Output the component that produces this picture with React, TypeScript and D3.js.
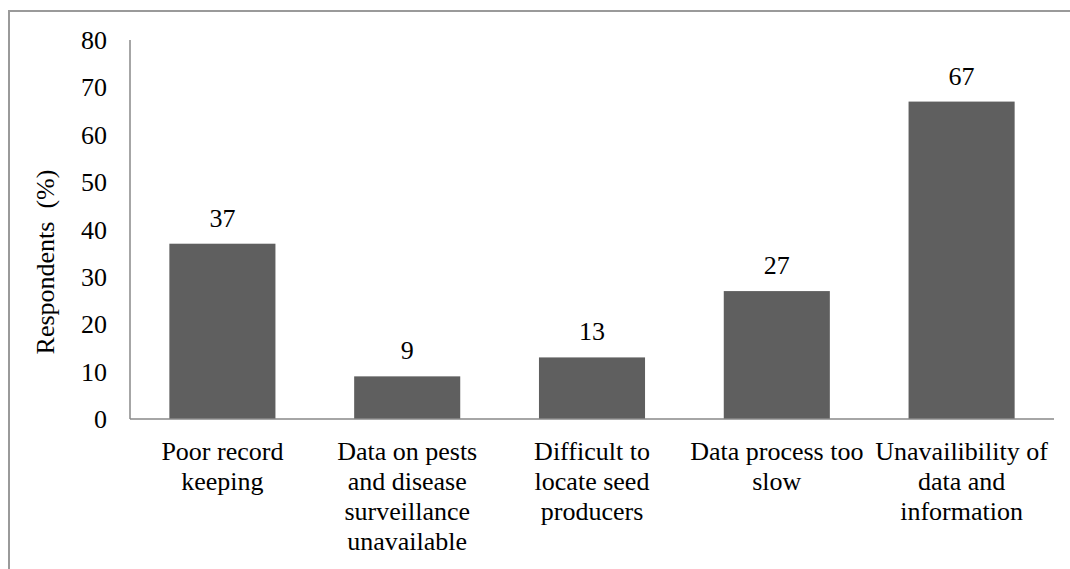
import React from "react";
import * as d3 from "d3";

// Survey results: constraints reported by respondents
const categories: string[] = [
  "Poor record keeping",
  "Data on pests and disease surveillance unavailable",
  "Difficult to locate seed producers",
  "Data process too slow",
  "Unavailibility of data and information",
];
const categoryLines: string[][] = [
  ["Poor record", "keeping"],
  ["Data on pests", "and disease", "surveillance", "unavailable"],
  ["Difficult to", "locate seed", "producers"],
  ["Data process too", "slow"],
  ["Unavailibility of", "data and", "information"],
];
const values: number[] = [37, 9, 13, 27, 67];
const yTicks: number[] = [0, 10, 20, 30, 40, 50, 60, 70, 80];
const yTitle = "Respondents  (%)";

const W = 1070;
const H = 569;
const plot = { left: 130, right: 1054, top: 40, bottom: 419 };
const textStyle: React.CSSProperties = {
  fontFamily: '"Times New Roman", "Liberation Serif", Tinos, "DejaVu Serif", serif',
  fontSize: "26px",
  whiteSpace: "pre",
};

export default function App() {
  const x = d3
    .scaleBand<string>()
    .domain(categories)
    .range([plot.left, plot.right])
    .paddingInner(0.426)
    .paddingOuter(0.213);
  const y = d3.scaleLinear().domain([0, 80]).range([plot.bottom, plot.top]);

  return (
    <div style={{ position: "absolute", left: 0, top: 0 }}>
      <svg width={W} height={H} style={{ display: "block", background: "#fff" }}>
        {/* outer frame */}
        <path d={`M9,${H} V11 H${W}`} fill="none" stroke="#9a9a9a" strokeWidth={2} />

        {/* bars */}
        {categories.map((c, i) => (
          <rect
            key={c}
            x={x(c)}
            y={y(values[i])}
            width={x.bandwidth()}
            height={y(0) - y(values[i])}
            fill="#5f5f5f"
          />
        ))}

        {/* axes */}
        <line x1={plot.left} x2={plot.left} y1={plot.top} y2={plot.bottom} stroke="#888" strokeWidth={1.5} />
        <line x1={plot.left} x2={plot.right} y1={plot.bottom} y2={plot.bottom} stroke="#888" strokeWidth={1.5} />

        {/* y tick labels */}
        {yTicks.map((t) => (
          <text key={t} x={107} y={y(t) + 9} textAnchor="end" style={textStyle} fill="#000">
            {t}
          </text>
        ))}

        {/* y axis title */}
        <text
          transform={`translate(54, ${262}) rotate(-90)`}
          textAnchor="middle"
          style={textStyle}
          fill="#000"
        >
          {yTitle}
        </text>

        {/* value labels */}
        {categories.map((c, i) => (
          <text
            key={`v-${c}`}
            x={(x(c) as number) + x.bandwidth() / 2}
            y={y(values[i]) - 17}
            textAnchor="middle"
            style={textStyle}
            fill="#000"
          >
            {values[i]}
          </text>
        ))}

        {/* category labels */}
        {categories.map((c, i) => (
          <text key={`c-${c}`} textAnchor="middle" style={textStyle} fill="#000">
            {categoryLines[i].map((ln, j) => (
              <tspan key={j} x={(x(c) as number) + x.bandwidth() / 2} y={460 + j * 30}>
                {ln}
              </tspan>
            ))}
          </text>
        ))}
      </svg>
    </div>
  );
}
